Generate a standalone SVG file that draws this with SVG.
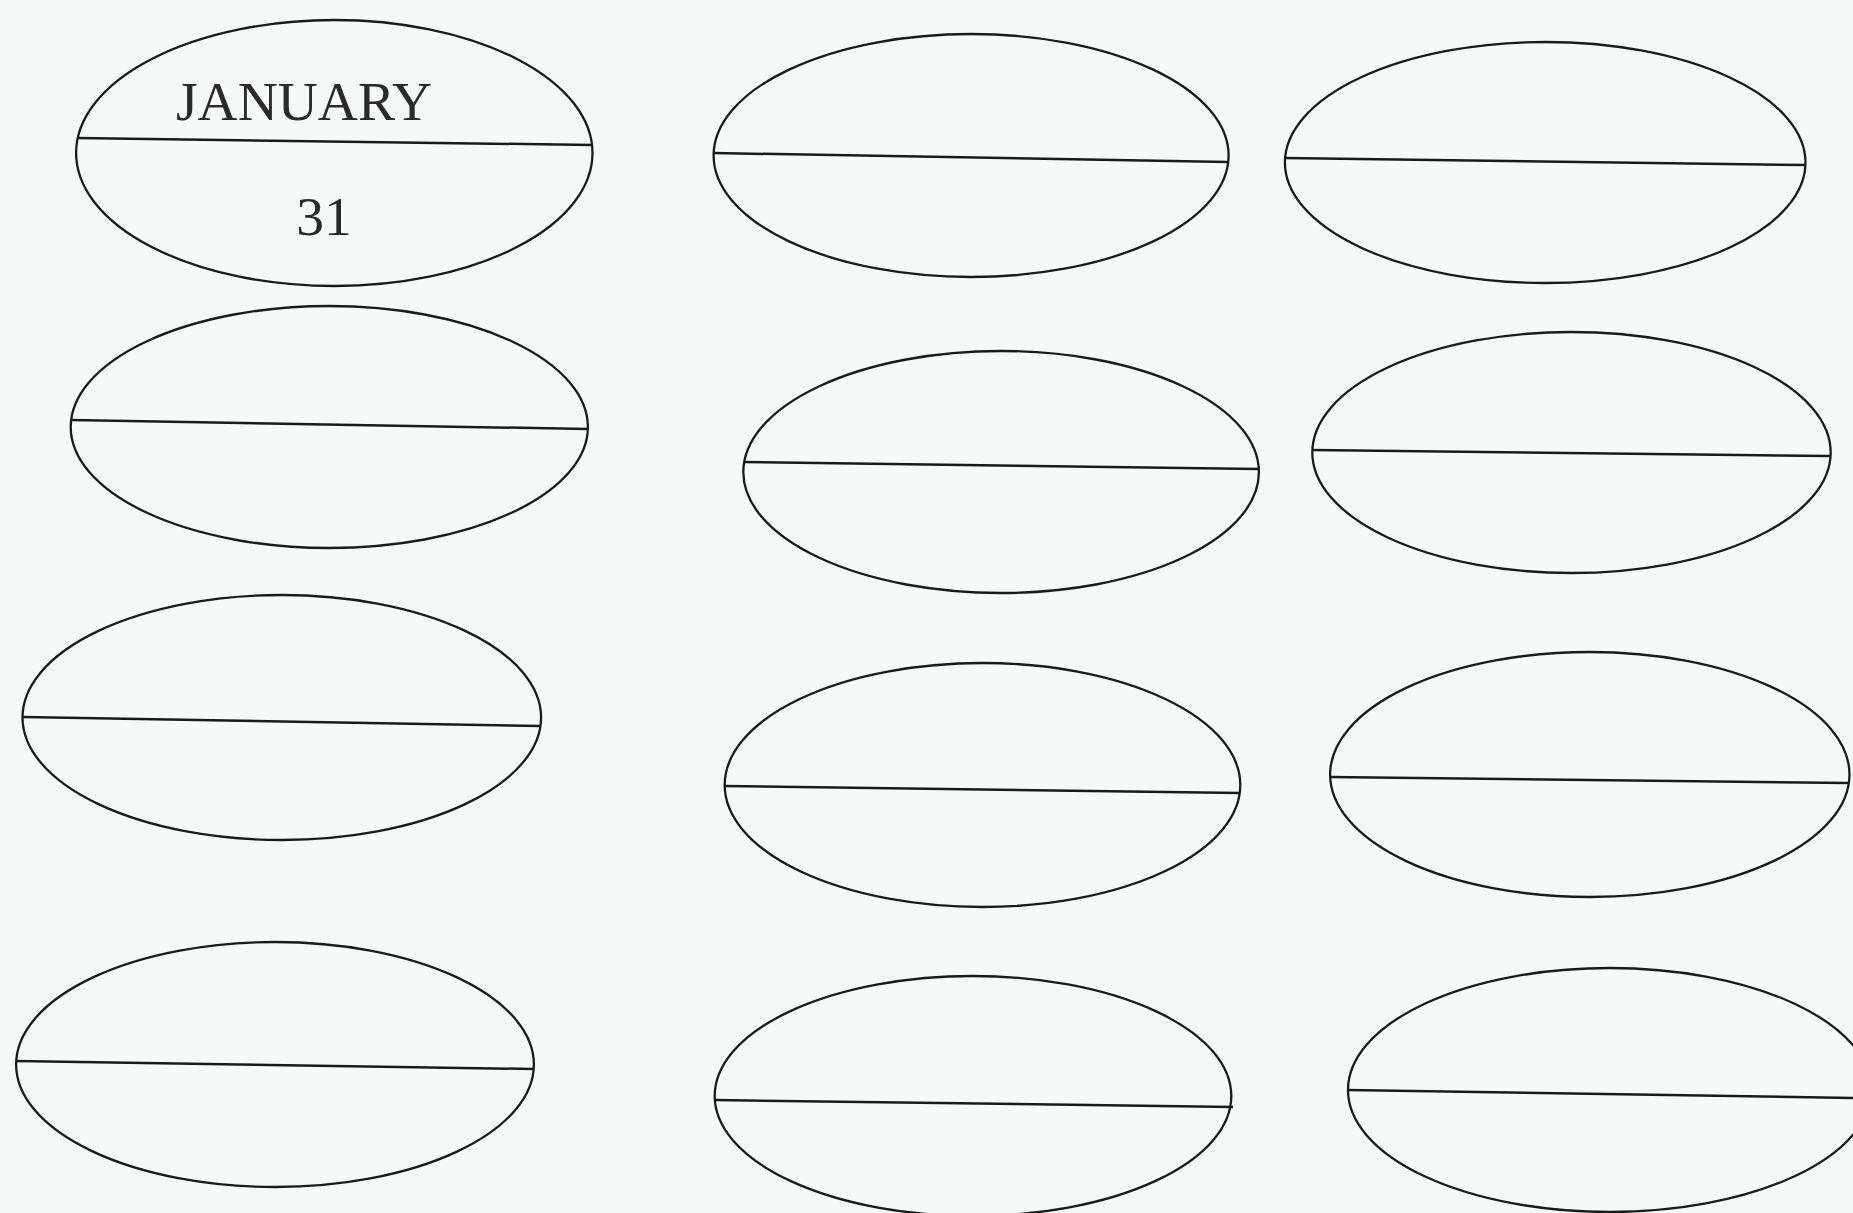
<svg xmlns="http://www.w3.org/2000/svg" width="1853" height="1213" viewBox="0 0 1853 1213">
<style>
.o{fill:none;stroke:#1a1a1a;stroke-width:2.3}
.d{stroke:#1a1a1a;stroke-width:2.5;fill:none}
.t{font-family:"Liberation Serif","Times New Roman",serif;font-size:55.5px;fill:#2a2a2a;text-anchor:middle}
</style>
<rect width="1853" height="1213" fill="#f6f9fa"/>
<g id="node-january">
<ellipse class="o" cx="334.3" cy="153" rx="258.2" ry="133"/>
<line class="d" x1="77" y1="138" x2="592" y2="145"/>
<text class="t" x="304" y="120">JANUARY</text>
<text class="t" x="324" y="235">31</text>
</g>
<g id="node-2"><ellipse class="o" cx="971.1" cy="155.5" rx="257.5" ry="121.5"/><line class="d" x1="714" y1="153" x2="1228" y2="162"/></g>
<g id="node-3"><ellipse class="o" cx="1545.2" cy="162.5" rx="260.3" ry="120.5"/><line class="d" x1="1285" y1="158" x2="1805" y2="165"/></g>
<g id="node-4"><ellipse class="o" cx="329.3" cy="427" rx="258.6" ry="121"/><line class="d" x1="71" y1="420" x2="587" y2="429"/></g>
<g id="node-5"><ellipse class="o" cx="1001.1" cy="472" rx="257.8" ry="121"/><line class="d" x1="744" y1="462" x2="1258" y2="469"/></g>
<g id="node-6"><ellipse class="o" cx="1571.5" cy="452.5" rx="259.2" ry="120.5"/><line class="d" x1="1313" y1="450" x2="1830" y2="456"/></g>
<g id="node-7"><ellipse class="o" cx="281.8" cy="717.5" rx="259.3" ry="122.5"/><line class="d" x1="23" y1="717" x2="540" y2="726"/></g>
<g id="node-8"><ellipse class="o" cx="982.5" cy="785" rx="257.8" ry="122"/><line class="d" x1="725" y1="786" x2="1240" y2="793"/></g>
<g id="node-9"><ellipse class="o" cx="1589.8" cy="774.5" rx="259.7" ry="122.5"/><line class="d" x1="1330" y1="777" x2="1849" y2="783"/></g>
<g id="node-10"><ellipse class="o" cx="275" cy="1064.5" rx="258.9" ry="122.5"/><line class="d" x1="16" y1="1061" x2="533" y2="1069"/></g>
<g id="node-11"><ellipse class="o" cx="973" cy="1096" rx="258.3" ry="120"/><line class="d" x1="715" y1="1100" x2="1233" y2="1107"/></g>
<g id="node-12"><ellipse class="o" cx="1609.6" cy="1090" rx="261.6" ry="122"/><line class="d" x1="1348" y1="1090" x2="1853" y2="1098"/></g>
<g id="connectors"></g>
</svg>
